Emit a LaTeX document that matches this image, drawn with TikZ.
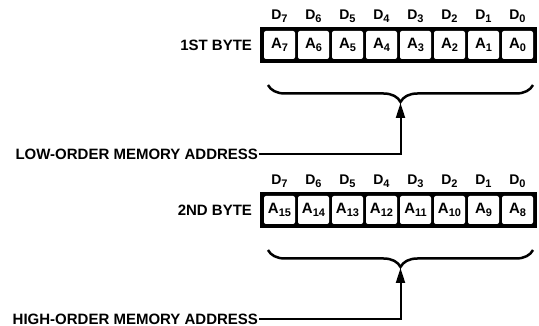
\documentclass[tikz,border=0pt]{standalone}
\usepackage{fontspec}
\setmainfont{Liberation Sans}
\usetikzlibrary{positioning,arrows.meta,decorations.pathreplacing}

\newcommand{\bitsub}[1]{\raisebox{-3.5pt}{\fontsize{11}{11}\selectfont #1}}

\begin{document}
\begin{tikzpicture}[x=1pt, y=1pt, line width=2pt,
    every node/.style={font=\bfseries\fontsize{15}{17}\selectfont, inner sep=0pt},
    register/.style={fill=black, minimum width=277pt, minimum height=36pt},
    cell/.style={fill=white, rounded corners=2pt, minimum width=31pt, minimum height=28pt},
    bitlabel/.style={font=\bfseries\fontsize{14}{16}\selectfont},
    bracket/.style={decorate, decoration={brace, mirror, amplitude=17pt}, line width=2.5pt}]
  \useasboundingbox (0,0) rectangle (539,326);
  \foreach \row/\y/\lab/\addr/\msb in {1/0/1ST BYTE/LOW-ORDER MEMORY ADDRESS/7, 2/-165/2ND BYTE/HIGH-ORDER MEMORY ADDRESS/15} {
    \begin{scope}[yshift=\y pt]
      \node[register] (reg\row) at (398.5,281) {};
      \node[left=6pt of reg\row] (byte\row) {\lab};
      \foreach \i in {0,...,7} {
        \pgfmathtruncatemacro{\bitd}{7-\i}
        \pgfmathtruncatemacro{\bita}{\msb-\i}
        \node[cell] (cell\row\i) at (279.5+34*\i,281) {A\bitsub{\bita}};
        \node[bitlabel, above=6pt of cell\row\i] (d\row\i) {D\bitsub{\bitd}};
      }
      \coordinate (bl\row) at (268,241);
      \coordinate (br\row) at (533,241);
      \coordinate (tip\row) at (400.5,223);
      \draw[bracket] (bl\row) -- (br\row);
      \node[anchor=east] (addr\row) at (259,172) {\addr};
      \draw[-{Triangle[length=15pt,width=9pt]}] (addr\row.east) -| (tip\row);
    \end{scope}
  }
\end{tikzpicture}
\end{document}
